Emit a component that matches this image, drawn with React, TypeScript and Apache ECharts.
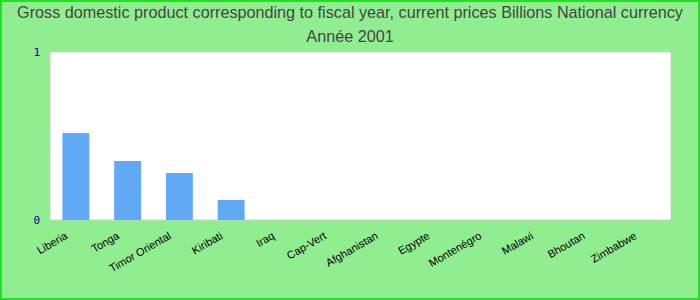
import React, { useEffect, useRef } from "react";
import * as echarts from "echarts";

const titleLines = [
  "Gross domestic product corresponding to fiscal year, current prices Billions National currency",
  "Année 2001",
];
const categories = [
  "Liberia",
  "Tonga",
  "Timor Oriental",
  "Kiribati",
  "Iraq",
  "Cap-Vert",
  "Afghanistan",
  "Egypte",
  "Montenégro",
  "Malawi",
  "Bhoutan",
  "Zimbabwe",
];
const values = [0.518, 0.351, 0.28, 0.119, 0, 0, 0, 0, 0, 0, 0, 0];
const yTicks = [0, 1];

export default function App() {
  const ref = useRef<HTMLDivElement>(null);
  useEffect(() => {
    document.body.style.margin = "0";
    const chart = echarts.init(ref.current!, undefined, { renderer: "svg" });
    chart.setOption({
      animation: false,
      backgroundColor: "#90ee90",
      title: {
        text: titleLines.join("\n"),
        left: "center",
        top: 0,
        padding: 0,
        textStyle: {
          fontFamily: "Liberation Sans, Arial, sans-serif",
          fontSize: 16.2,
          fontWeight: "normal",
          color: "#444444",
          lineHeight: 24,
        },
      },
      graphic: [
        {
          type: "rect",
          shape: { x: 1, y: 1, width: 698, height: 298 },
          style: { fill: "none", stroke: "#22e022", lineWidth: 2 },
          silent: true,
        },
      ],
      grid: {
        left: 50,
        right: 29,
        top: 52,
        bottom: 80,
        show: true,
        backgroundColor: "#ffffff",
        borderColor: "#cccccc",
        borderWidth: 1,
      },
      xAxis: {
        type: "category",
        data: categories,
        axisLine: { show: false },
        axisTick: { show: false },
        axisLabel: {
          rotate: 30,
          interval: 0,
          margin: 9,
          padding: [0, 11, 0, 0],
          fontSize: 11,
          fontFamily: "Liberation Sans, Arial, sans-serif",
          color: "#000000",
        },
      },
      yAxis: {
        type: "value",
        min: yTicks[0],
        max: yTicks[yTicks.length - 1],
        interval: 1,
        axisLine: { show: false },
        axisTick: { show: false },
        splitLine: { show: false },
        axisLabel: {
          margin: 10,
          fontSize: 11,
          fontFamily: "DejaVu Sans Mono, monospace",
          color: "#0000aa",
        },
      },
      series: [
        {
          type: "bar",
          data: values,
          barWidth: "52%",
          itemStyle: { color: "#62a9f5" },
        },
      ],
    });
    return () => chart.dispose();
  }, []);
  return <div ref={ref} style={{ width: 700, height: 300 }} />;
}
